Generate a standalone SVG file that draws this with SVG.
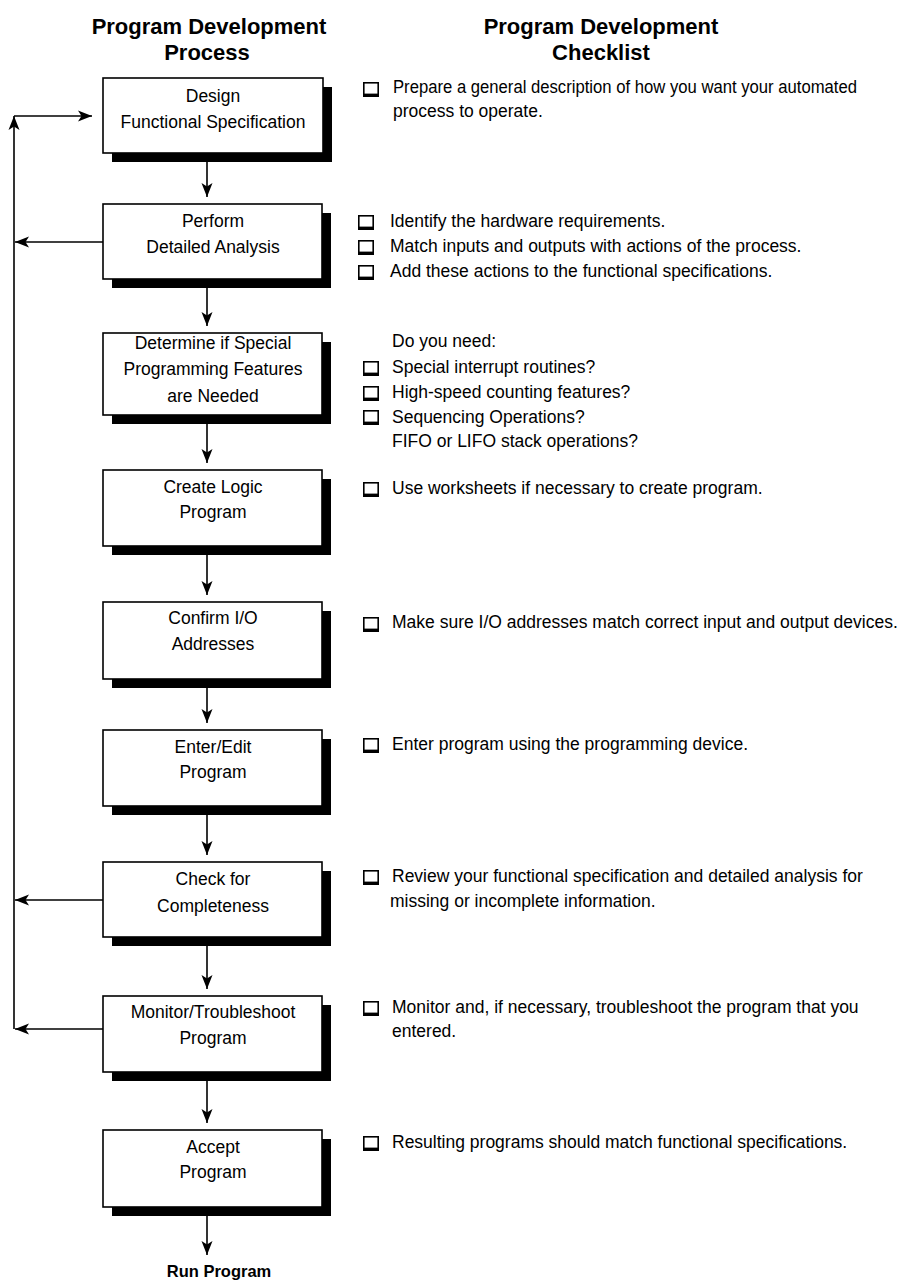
<svg xmlns="http://www.w3.org/2000/svg" xmlns:xlink="http://www.w3.org/1999/xlink" width="906" height="1283" viewBox="0 0 906 1283">
<style>
.hd{font-family:"Liberation Sans",Arial,sans-serif;font-weight:bold;font-size:22px;fill:#000;text-anchor:middle}
.bt{font-family:"Liberation Sans",Arial,sans-serif;font-size:17.5px;fill:#000;text-anchor:middle}
.ct{font-family:"Liberation Sans",Arial,sans-serif;font-size:17.5px;fill:#000}
.box{fill:#fff;stroke:#000;stroke-width:1.6}
.sh{fill:#000}
.ln{fill:none;stroke:#000;stroke-width:1.6;marker-end:url(#ah)}
</style>
<defs>
<marker id="ah" markerUnits="userSpaceOnUse" markerWidth="16" markerHeight="14" viewBox="0 -7 16 14" refX="14" refY="0" orient="auto">
<path d="M0,-5.5 L14,0 L0,5.5 L3.5,0 Z" fill="#000"/>
</marker>
<g id="cb"><rect x="0" y="0" width="16" height="15" fill="#000"/><rect x="1.6" y="1.6" width="12.8" height="10" fill="#fff"/></g>
</defs>
<rect width="906" height="1283" fill="#fff"/>

<g id="headers">
<text class="hd" x="209" y="34">Program Development</text>
<text class="hd" x="207" y="60">Process</text>
<text class="hd" x="601" y="34">Program Development</text>
<text class="hd" x="601" y="60">Checklist</text>
</g>

<g id="connectors">
<path class="ln" d="M207,153 V197"/>
<path class="ln" d="M207,279 V326"/>
<path class="ln" d="M207,415 V463"/>
<path class="ln" d="M207,546 V595"/>
<path class="ln" d="M207,679 V723"/>
<path class="ln" d="M207,806 V855"/>
<path class="ln" d="M207,937 V989"/>
<path class="ln" d="M207,1072 V1123"/>
<path class="ln" d="M207,1207 V1255"/>
<path class="ln" d="M14,1029 V116"/>
<path class="ln" d="M14,116 H92"/>
<path class="ln" d="M103,242 H15"/>
<path class="ln" d="M103,900 H15"/>
<path class="ln" d="M103,1029 H15"/>
</g>

<g id="n1"><rect class="sh" x="112" y="87" width="220" height="75"/><rect class="box" x="103" y="78" width="220" height="75"/>
<text class="bt" x="213" y="102">Design</text><text class="bt" x="213" y="128">Functional Specification</text></g>
<g id="n2"><rect class="sh" x="112" y="213" width="219" height="75"/><rect class="box" x="103" y="204" width="219" height="75"/>
<text class="bt" x="213" y="227">Perform</text><text class="bt" x="213" y="253">Detailed Analysis</text></g>
<g id="n3"><rect class="sh" x="112" y="342" width="219" height="82"/><rect class="box" x="103" y="333" width="219" height="82"/>
<text class="bt" x="213" y="349">Determine if Special</text><text class="bt" x="213" y="375">Programming Features</text><text class="bt" x="213" y="402">are Needed</text></g>
<g id="n4"><rect class="sh" x="112" y="479" width="219" height="76"/><rect class="box" x="103" y="470" width="219" height="76"/>
<text class="bt" x="213" y="493">Create Logic</text><text class="bt" x="213" y="518">Program</text></g>
<g id="n5"><rect class="sh" x="112" y="611" width="219" height="77"/><rect class="box" x="103" y="602" width="219" height="77"/>
<text class="bt" x="213" y="624">Confirm I/O</text><text class="bt" x="213" y="650">Addresses</text></g>
<g id="n6"><rect class="sh" x="112" y="739" width="219" height="76"/><rect class="box" x="103" y="730" width="219" height="76"/>
<text class="bt" x="213" y="753">Enter/Edit</text><text class="bt" x="213" y="778">Program</text></g>
<g id="n7"><rect class="sh" x="112" y="871" width="219" height="75"/><rect class="box" x="103" y="862" width="219" height="75"/>
<text class="bt" x="213" y="885">Check for</text><text class="bt" x="213" y="912">Completeness</text></g>
<g id="n8"><rect class="sh" x="112" y="1005" width="219" height="76"/><rect class="box" x="103" y="996" width="219" height="76"/>
<text class="bt" x="213" y="1018">Monitor/Troubleshoot</text><text class="bt" x="213" y="1044">Program</text></g>
<g id="n9"><rect class="sh" x="112" y="1139" width="219" height="77"/><rect class="box" x="103" y="1130" width="219" height="77"/>
<text class="bt" x="213" y="1153">Accept</text><text class="bt" x="213" y="1178">Program</text></g>
<g id="end"><text class="hd" x="219" y="1277" style="font-size:16.5px">Run Program</text></g>

<g id="checklist">
<use xlink:href="#cb" x="363" y="82"/>
<text class="ct" x="393" y="93" textLength="464" lengthAdjust="spacingAndGlyphs">Prepare a general description of how you want your automated</text>
<text class="ct" x="393" y="117">process to operate.</text>
<use xlink:href="#cb" x="358" y="215"/>
<text class="ct" x="390" y="227">Identify the hardware requirements.</text>
<use xlink:href="#cb" x="358" y="240"/>
<text class="ct" x="390" y="252">Match inputs and outputs with actions of the process.</text>
<use xlink:href="#cb" x="358" y="265"/>
<text class="ct" x="390" y="277">Add these actions to the functional specifications.</text>
<text class="ct" x="392" y="347">Do you need:</text>
<use xlink:href="#cb" x="363" y="361"/>
<text class="ct" x="392" y="373">Special interrupt routines?</text>
<use xlink:href="#cb" x="363" y="386"/>
<text class="ct" x="392" y="398">High-speed counting features?</text>
<use xlink:href="#cb" x="363" y="410"/>
<text class="ct" x="392" y="423">Sequencing Operations?</text>
<text class="ct" x="392" y="447">FIFO or LIFO stack operations?</text>
<use xlink:href="#cb" x="363" y="482"/>
<text class="ct" x="392" y="494">Use worksheets if necessary to create program.</text>
<use xlink:href="#cb" x="363" y="617"/>
<text class="ct" x="392" y="628">Make sure I/O addresses match correct input and output devices.</text>
<use xlink:href="#cb" x="363" y="738"/>
<text class="ct" x="392" y="750">Enter program using the programming device.</text>
<use xlink:href="#cb" x="363" y="870"/>
<text class="ct" x="392" y="882">Review your functional specification and detailed analysis for</text>
<text class="ct" x="390" y="907">missing or incomplete information.</text>
<use xlink:href="#cb" x="363" y="1001"/>
<text class="ct" x="392" y="1013">Monitor and, if necessary, troubleshoot the program that you</text>
<text class="ct" x="392" y="1037">entered.</text>
<use xlink:href="#cb" x="363" y="1136"/>
<text class="ct" x="392" y="1148">Resulting programs should match functional specifications.</text>
</g>
</svg>
